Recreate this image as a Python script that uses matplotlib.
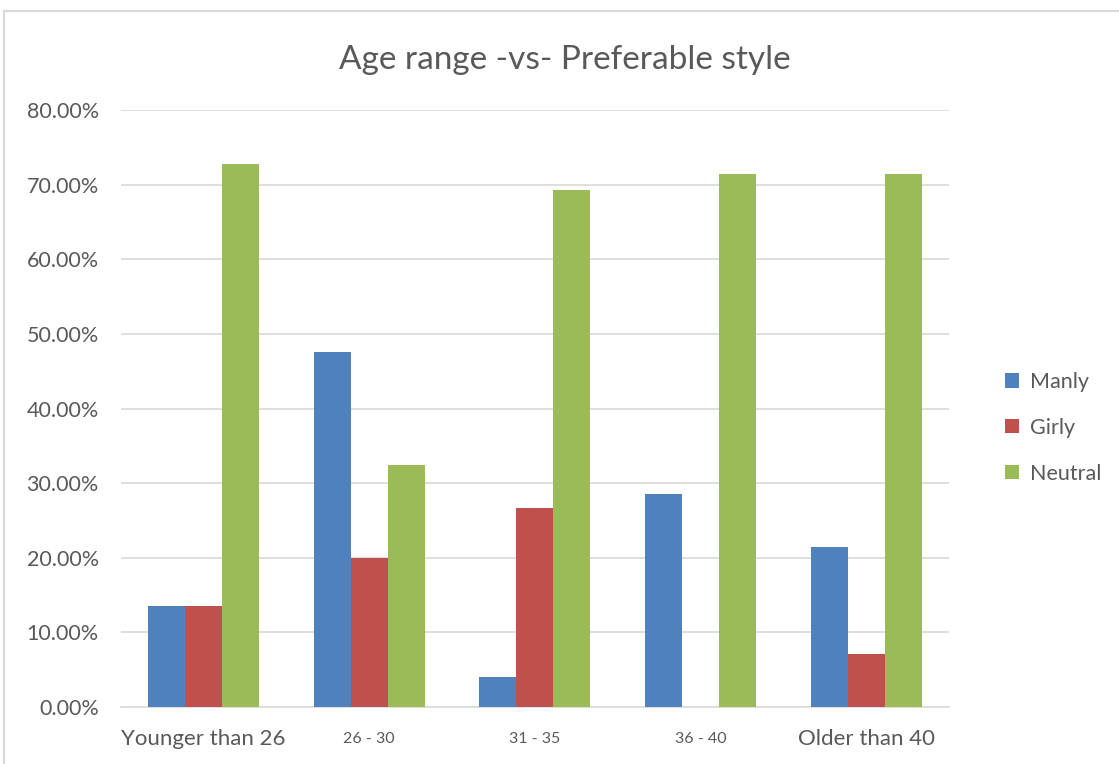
import numpy as np
import matplotlib.pyplot as plt
from matplotlib.patches import Rectangle
from matplotlib.ticker import PercentFormatter

# ---------- Data ----------

categories = ['Younger than 26', '26 - 30', '31 - 35', '36 - 40', 'Older than 40']
manly = [13.6, 47.6, 4.0, 28.6, 21.4]     # percent
girly = [13.6, 20.0, 26.7, 0.0, 7.1]
neutral = [72.7, 32.4, 69.3, 71.4, 71.4]

series = ['Manly', 'Girly', 'Neutral']
colors = ['#4F81BD', '#C0504D', '#9BBB59']

# ---------- Plot ----------

plt.rcParams['font.family'] = ['Lato', 'DejaVu Sans']
text_col = '#595959'

fig = plt.figure(figsize=(11.19, 7.64), dpi=100)
ax = fig.add_axes([0.108, 0.0746, 0.74, 0.7814])

# chart frame (light border at top/left edge)
fig.patches.append(Rectangle((4/1119, -0.1), 1.2, 1.1 - 11/764,
                             transform=fig.transFigure, fill=False,
                             edgecolor='#D9D9D9', linewidth=1.6))

x = np.arange(len(categories))
w = 0.2235
for k, (name, vals) in enumerate(zip(series, [manly, girly, neutral])):
    ax.bar(x + (k - 1)*w, np.array(vals)/100, width=w, color=colors[k],
           label=name, zorder=3)

ax.set_xlim(-0.5, len(categories) - 0.5)
ax.set_ylim(0, 0.8)
ax.set_yticks(np.arange(0, 0.81, 0.1))
ax.yaxis.set_major_formatter(PercentFormatter(1.0, decimals=2))
ax.grid(axis='y', color='#D9D9D9', linewidth=1.2, zorder=0)
for s in ['top', 'right', 'left']:
    ax.spines[s].set_visible(False)
ax.spines['bottom'].set_color('#D9D9D9')
ax.spines['bottom'].set_linewidth(1.2)
ax.tick_params(axis='both', length=0, colors=text_col)
ax.tick_params(axis='y', pad=16, labelsize=15.5)
ax.tick_params(axis='x', pad=23, labelsize=16)

ax.set_xticks(x)
ax.set_xticklabels(categories, va='center')
for i, lbl in enumerate(ax.get_xticklabels()):
    if 0 < i < len(categories) - 1:
        lbl.set_fontsize(11.5)

fig.text(0.505, 0.922, 'Age range -vs- Preferable style', ha='center',
         va='center', fontsize=24, color=text_col)

ax.legend(loc='center left', bbox_to_anchor=(0.881, 0.44),
          bbox_transform=fig.transFigure, frameon=False, fontsize=15.5,
          handlelength=0.65, handleheight=0.65, handletextpad=0.5,
          labelspacing=1.2, labelcolor=text_col)

fig.savefig('out.png', dpi=100)
